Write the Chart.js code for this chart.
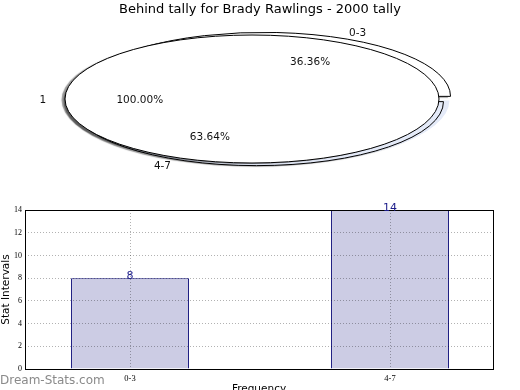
<!DOCTYPE html>
<html><head><meta charset="utf-8">
<script src="https://cdn.jsdelivr.net/npm/chart.js@4"></script>
<style>
html,body{margin:0;padding:0;overflow:hidden;background:#fff;width:520px;height:390px;}
#wrap{position:relative;width:520px;height:390px;overflow:hidden;}
canvas{position:absolute;left:0;}
</style></head><body>
<div id="wrap">
<canvas id="pieBack" width="520" height="195" style="top:0"></canvas>
<canvas id="pieFront" width="520" height="195" style="top:0"></canvas>
<canvas id="bar" width="520" height="202" style="top:195px"></canvas>
</div>
<script>
// ---- data ----
const titleText = 'Behind tally for Brady Rawlings - 2000 tally';
const categories = ['0-3', '4-7'];
const counts = [8, 14];
const overallLabels = ['1'];
const overallCounts = [22];
const yTicks = [0, 2, 4, 6, 8, 10, 12, 14];
const xAxisTitle = 'Frequency';
const yAxisTitle = 'Stat Intervals';
const watermarkText = 'Dream-Stats.com';

Chart.defaults.font.family = 'DejaVu Sans';
Chart.defaults.color = '#000';

// pie drawn clockwise from 3 o'clock: reverse to match counter-clockwise original
const pieLabels = categories.slice().reverse();
const pieValues = counts.slice().reverse();
const pieColors = {'0-3': '#ffffff', '4-7': '#e4eaf8'};

const SX = 187 / 64;   // ellipse stretch
const EXPLODE = 2.9;   // px, explode distance (unstretched)

function explodeOffset(v, total) {
  const circ = 2 * Math.PI * v / total;
  const fix = 1 - Math.sin(Math.min(Math.PI, circ));
  return 4 * EXPLODE / (1 + fix);
}
function arcGeom(arc) {
  const circ = arc.endAngle - arc.startAngle;
  const off = (arc.options.offset || 0) / 4;
  const fix = 1 - Math.sin(Math.min(Math.PI, circ));
  const d = off * (1 + fix);
  const h = (arc.startAngle + arc.endAngle) / 2;
  return {cx: arc.x + Math.cos(h) * d * SX, cy: arc.y + Math.sin(h) * d, h};
}

const ellipsePlugin = {
  id: 'ellipse',
  beforeDatasetsDraw(chart) {
    const ctx = chart.ctx;
    const a = chart.getDatasetMeta(0).data[0];
    ctx.save();
    ctx.translate(a.x, a.y); ctx.scale(SX, 1); ctx.translate(-a.x, -a.y);
    ctx.shadowColor = 'rgba(0,0,0,0.4)';
    ctx.shadowOffsetX = -3.5; ctx.shadowOffsetY = 1; ctx.shadowBlur = 1;
  },
  afterDatasetsDraw(chart) {
    const ctx = chart.ctx;
    ctx.restore();
    ctx.save();
    ctx.strokeStyle = '#000'; ctx.lineWidth = 1;
    chart.getDatasetMeta(0).data.forEach(arc => {
      const g = arcGeom(arc);
      const full = (arc.endAngle - arc.startAngle) >= 2 * Math.PI - 1e-6;
      ctx.beginPath();
      if (!full) ctx.moveTo(g.cx, g.cy);
      ctx.ellipse(g.cx, g.cy, arc.outerRadius * SX, arc.outerRadius, 0, arc.startAngle, arc.endAngle);
      if (!full) ctx.closePath();
      ctx.stroke();
    });
    ctx.restore();
  }
};

function drawPieLabels(ctx, meta, labels, values) {
  const total = values.reduce((a, b) => a + b, 0);
  ctx.save();
  ctx.font = '10.5px "DejaVu Sans"';
  ctx.fillStyle = '#111';
  ctx.textBaseline = 'middle';
  meta.data.forEach((arc, i) => {
    const g = arcGeom(arc);
    const R = arc.outerRadius;
    const c = Math.cos(g.h), s = Math.sin(g.h);
    ctx.textAlign = c > 0.001 ? 'left' : (c < -0.001 ? 'right' : 'center');
    ctx.fillText(labels[i], g.cx + 1.1 * R * SX * c, g.cy + 1.1 * R * s + 1);
    ctx.textAlign = 'center';
    ctx.fillText((100 * values[i] / total).toFixed(2) + '%', g.cx + 0.6 * R * SX * c, g.cy + 0.6 * R * s + 1);
  });
  ctx.restore();
}

const pieTotal = pieValues.reduce((a, b) => a + b, 0);
const backChart = new Chart(document.getElementById('pieBack'), {
  type: 'pie',
  data: {labels: pieLabels, datasets: [{
    data: pieValues,
    backgroundColor: pieLabels.map(l => pieColors[l]),
    borderWidth: 0,
    offset: pieValues.map(v => explodeOffset(v, pieTotal))
  }]},
  options: {
    responsive: false, animation: false, devicePixelRatio: 1,
    rotation: 90, radius: 64,
    layout: {padding: {left: 0, right: 0, top: 0, bottom: 14.6}},
    plugins: {
      legend: {display: false}, tooltip: {enabled: false},
      title: {display: true, text: titleText, color: '#000',
        font: {family: 'DejaVu Sans', size: 13, weight: 'normal'}, padding: {top: 2, bottom: 0}}
    }
  },
  plugins: [ellipsePlugin]
});

const frontChart = new Chart(document.getElementById('pieFront'), {
  type: 'pie',
  data: {labels: overallLabels, datasets: [{
    data: overallCounts, backgroundColor: '#ffffff', borderWidth: 0
  }]},
  options: {
    responsive: false, animation: false, devicePixelRatio: 1,
    rotation: 90, radius: 64,
    layout: {padding: {left: 0, right: 16, top: 17.6, bottom: 14.6}},
    plugins: {legend: {display: false}, tooltip: {enabled: false}}
  },
  plugins: [ellipsePlugin, {
    id: 'pieLabels',
    afterDraw(chart) {
      drawPieLabels(chart.ctx, chart.getDatasetMeta(0), overallLabels, overallCounts);
      drawPieLabels(chart.ctx, backChart.getDatasetMeta(0), pieLabels, pieValues);
    }
  }]
});

// ---- bar chart ----
const barOverlay = {
  id: 'barOverlay',
  afterDraw(chart) {
    const ctx = chart.ctx, a = chart.chartArea;
    ctx.save();
    ctx.strokeStyle = '#000'; ctx.lineWidth = 1;
    const l = Math.round(a.left) + 0.5, t = Math.round(a.top) + 0.5;
    const r = Math.round(a.right) + 0.5, b = Math.round(a.bottom) + 0.5;
    ctx.strokeRect(l, t, r - l, b - t);
    ctx.font = '11px "DejaVu Sans"';
    ctx.fillStyle = '#1c1c8a';
    ctx.textAlign = 'center'; ctx.textBaseline = 'alphabetic';
    chart.getDatasetMeta(0).data.forEach((bar, i) => {
      ctx.fillText(String(counts[i]), bar.x, bar.y + 1);
    });
    ctx.font = '12px "DejaVu Sans"';
    ctx.fillStyle = '#8a8a8a';
    ctx.textAlign = 'left'; ctx.textBaseline = 'middle';
    ctx.fillText(watermarkText, 0, 186);
    ctx.restore();
  }
};

const gridColor = 'rgba(0,0,0,0.3)';
new Chart(document.getElementById('bar'), {
  type: 'bar',
  data: {datasets: [{
    data: counts.map((v, i) => ({x: i, y: v})),
    backgroundColor: 'rgb(204,204,228)',
    borderColor: '#10107a', borderWidth: 1,
    barPercentage: 1, categoryPercentage: 118 / 260
  }]},
  options: {
    responsive: false, animation: false, devicePixelRatio: 1,
    layout: {padding: {top: 15, right: 27, left: 0, bottom: 0}},
    plugins: {legend: {display: false}, tooltip: {enabled: false}},
    scales: {
      x: {
        type: 'linear', min: -0.404, max: 1.396, offset: false,
        afterBuildTicks(s) { s.ticks = categories.map((_, i) => ({value: i})); },
        afterFit(s) { s.height = 28; },
        ticks: {callback: (v) => categories[v], font: {family: 'Liberation Sans Narrow', size: 8.5},
          color: '#000', padding: 5, maxRotation: 0, autoSkip: false},
        grid: {color: gridColor, z: 1, drawTicks: false, offset: false},
        border: {display: false, dash: [1, 2]},
        title: {display: true, text: xAxisTitle, font: {family: 'DejaVu Sans', size: 10.5},
          color: '#000', padding: {top: 0, bottom: 1}}
      },
      y: {
        min: 0, max: 14,
        afterBuildTicks(s) { s.ticks = yTicks.map(v => ({value: v})); },
        afterFit(s) { s.width = 25; },
        ticks: {font: {family: 'Liberation Sans Narrow', size: 8}, color: '#000', padding: 3},
        grid: {color: gridColor, z: 1, drawTicks: false},
        border: {display: false, dash: [1, 2]},
        title: {display: true, text: yAxisTitle, font: {family: 'DejaVu Sans', size: 10.5},
          color: '#000', padding: {top: 0, bottom: 0}}
      }
    }
  },
  plugins: [barOverlay]
});
</script>
</body></html>
